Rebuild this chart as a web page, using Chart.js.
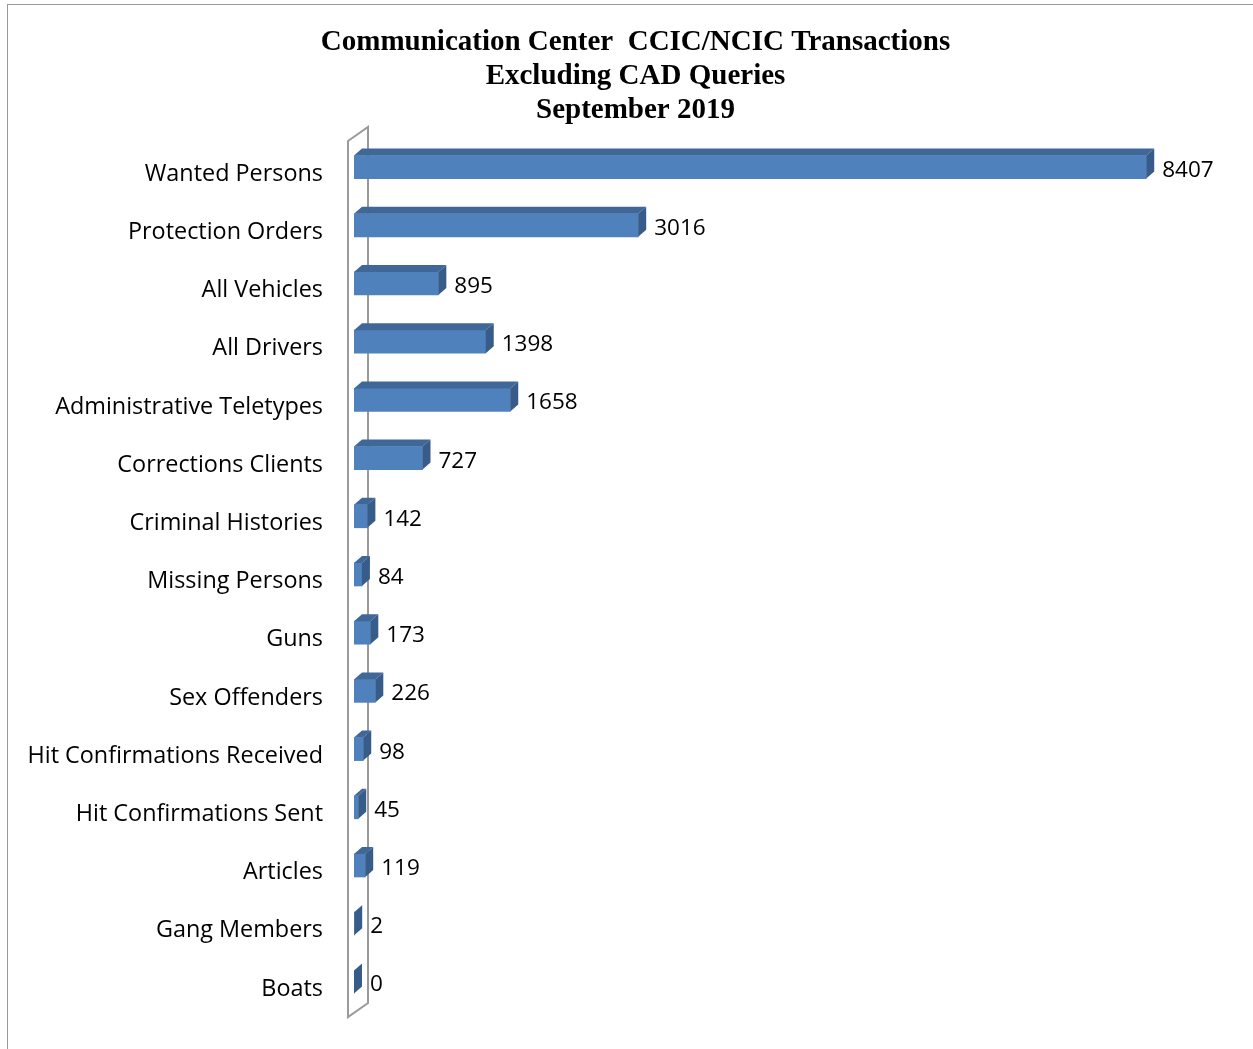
<!DOCTYPE html>
<html lang="en">
<head>
  <meta charset="UTF-8">
  <title>CCIC/NCIC Transactions</title>
  <script src="https://cdn.jsdelivr.net/npm/chart.js"></script>
  <style>
    body { margin: 0; background: #fff; }
    #frame { position: absolute; left: 7px; top: 4px; width: 1260px; height: 1060px;
             border-left: 1px solid #999; border-top: 1px solid #999; }
    #chart { position: absolute; left: 0; top: 0; }
  </style>
</head>
<body>
  <div id="frame"></div>
  <canvas id="chart" width="1253" height="1049"></canvas>
  <script>
    const categories = ["Wanted Persons", "Protection Orders", "All Vehicles", "All Drivers",
      "Administrative Teletypes", "Corrections Clients", "Criminal Histories", "Missing Persons",
      "Guns", "Sex Offenders", "Hit Confirmations Received", "Hit Confirmations Sent",
      "Articles", "Gang Members", "Boats"];
    const transactions = [8407, 3016, 895, 1398, 1658, 727, 142, 84, 173, 226, 98, 45, 119, 2, 0];
    const titleLines = ["Communication Center  CCIC/NCIC Transactions", "Excluding CAD Queries", "September 2019"];

    const DX = 8, DY = 7;

    const bars3d = {
      id: "bars3d",
      beforeDatasetsDraw(chart) {
        // back wall
        const ctx = chart.ctx, a = chart.chartArea;
        const x0 = chart.scales.x.getPixelForValue(0);
        const l = x0 - 6, r = x0 + 14, t = a.top - 11, b = a.bottom + 6;
        ctx.save();
        ctx.strokeStyle = "#9a9a9a";
        ctx.lineWidth = 2;
        ctx.beginPath();
        ctx.moveTo(l, t + 14); ctx.lineTo(r, t); ctx.lineTo(r, b - 14);
        ctx.lineTo(l, b); ctx.closePath();
        ctx.stroke();
        ctx.restore();
      },
      afterDatasetsDraw(chart) {
        const ctx = chart.ctx;
        const meta = chart.getDatasetMeta(0);
        ctx.save();
        meta.data.forEach((bar, i) => {
          const p = bar.getProps(["x", "y", "base", "height"], true);
          const top = p.y - p.height / 2, bot = p.y + p.height / 2;
          // top face
          ctx.fillStyle = "#3f6898";
          ctx.beginPath();
          ctx.moveTo(p.base, top); ctx.lineTo(p.base + DX, top - DY);
          ctx.lineTo(p.x + DX, top - DY); ctx.lineTo(p.x, top); ctx.closePath();
          ctx.fill();
          // side face
          ctx.fillStyle = "#375c8a";
          ctx.beginPath();
          ctx.moveTo(p.x, top); ctx.lineTo(p.x + DX, top - DY);
          ctx.lineTo(p.x + DX, bot - DY); ctx.lineTo(p.x, bot); ctx.closePath();
          ctx.fill();
          // value label
          ctx.fillStyle = "#000";
          ctx.font = "22.5px 'Open Sans', sans-serif";
          ctx.textAlign = "left";
          ctx.textBaseline = "middle";
          ctx.fillText(String(transactions[i]), p.x + DX + 8, p.y + 3);
        });
        // category labels
        const ys = chart.scales.y;
        ctx.font = "23.4px 'Open Sans', sans-serif";
        ctx.textAlign = "right";
        categories.forEach((c, i) => {
          ctx.fillText(c, 323, ys.getPixelForTick(i) + 7);
        });
        ctx.restore();
      }
    };

    new Chart(document.getElementById("chart"), {
      type: "bar",
      data: {
        labels: categories,
        datasets: [{
          data: transactions,
          backgroundColor: "#4f81bd",
          barThickness: 23,
          borderSkipped: false
        }]
      },
      options: {
        indexAxis: "y",
        responsive: false,
        animation: false,
        layout: { padding: { left: 18, right: 0, top: 0, bottom: 38 } },
        scales: {
          x: { display: false, min: 0, max: 9540 },
          y: {
            grid: { display: false },
            border: { display: false },
            ticks: { display: false },
            afterFit(scale) { scale.width = 336; }
          }
        },
        plugins: {
          legend: { display: false },
          tooltip: { enabled: false },
          title: {
            display: true,
            text: titleLines,
            color: "#000",
            font: { family: "'Liberation Serif', serif", size: 29, weight: "bold", lineHeight: 34 / 29 },
            padding: { top: 26, bottom: 10 }
          }
        }
      },
      plugins: [bars3d]
    });
  </script>
</body>
</html>
